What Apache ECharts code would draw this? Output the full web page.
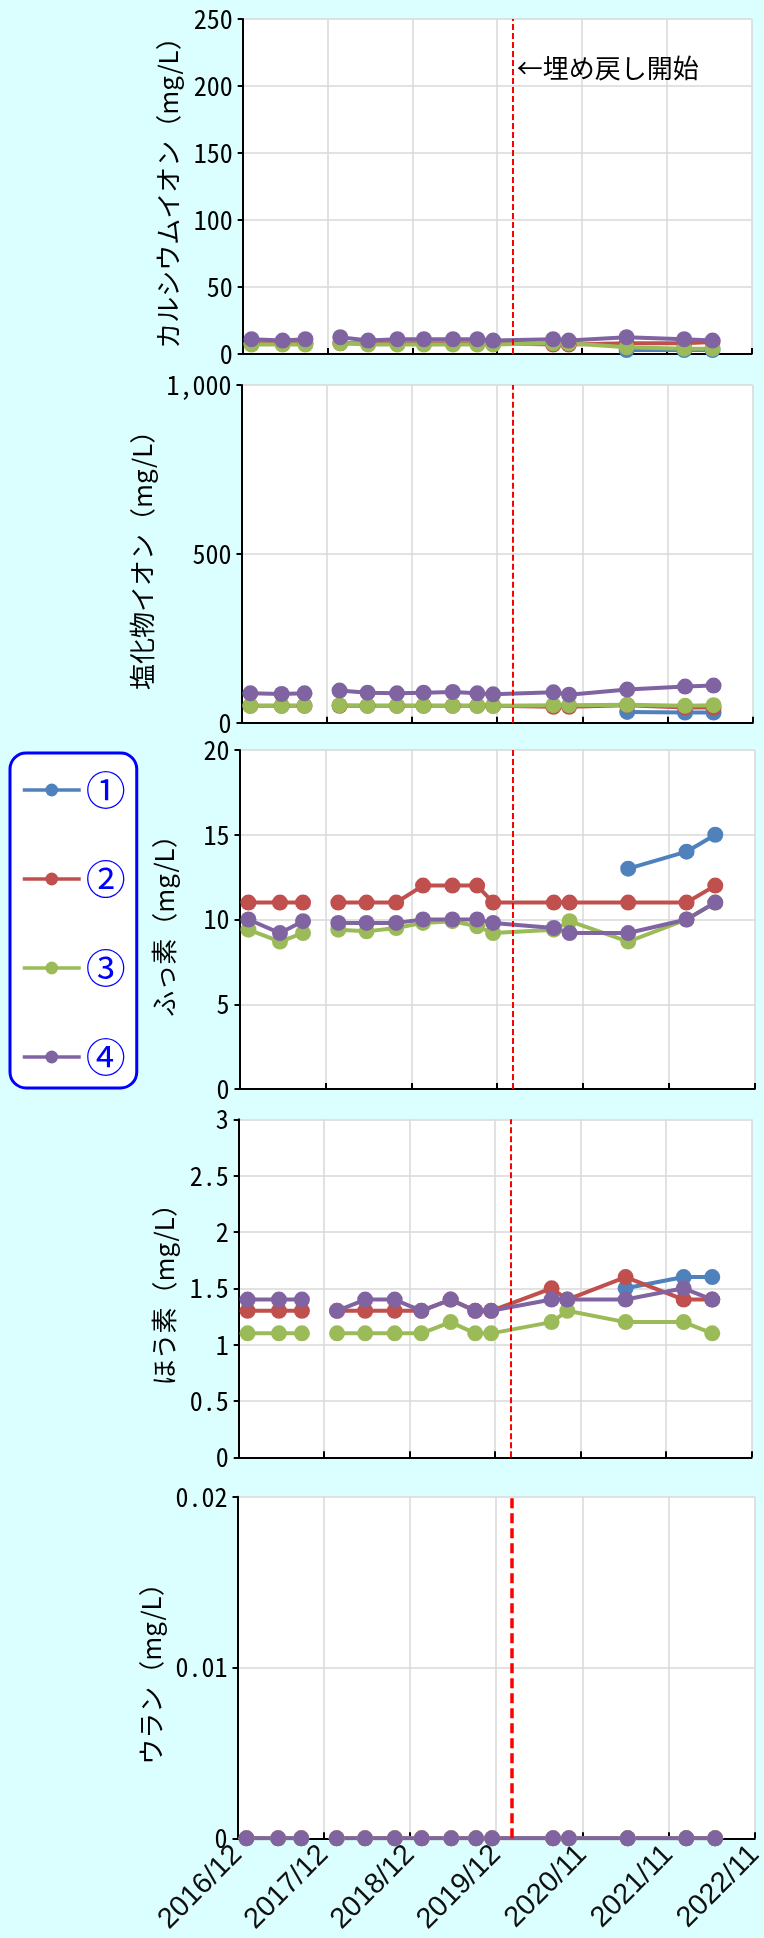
<!DOCTYPE html>
<html>
<head>
<meta charset="utf-8">
<script src="https://cdn.jsdelivr.net/npm/echarts@6/dist/echarts.min.js"></script>
<style>
html,body{margin:0;padding:0;background:#dbffff;}
#c{width:764px;height:1938px;}
</style>
</head>
<body>
<div id="c"></div>
<script>
// ---- data ----
const tickLabels = ['2016/12','2017/12','2018/12','2019/12','2020/11','2021/11','2022/11'];
const axisOrigin = '2016-12-01';
const tickStepDays = 365;
// sampling dates (null = blank row -> line break)
const sampleDates = ['2017-01-08','2017-05-22','2017-08-28', null,
  '2018-01-25','2018-05-25','2018-09-28','2019-01-20','2019-05-25','2019-09-07','2019-11-14',
  '2020-07-29','2020-10-04','2021-06-10','2022-02-13','2022-06-15'];
const backfillStart = '2020-02-04';
const backfillNote = '←埋め戻し開始';
const wellNames = ['①','②','③','④'];

const calcium1 = [null,null,null,null, null,null,null,null,null,null,null, null,null, 3,3,3];
const calcium2 = [8,8,8,null, 8,8,8,8,8,8,8, 7,7, 8, 8,9];
const calcium3 = [7,7,7,null, 8,7,7,7,7,7,7, 8,8, 5, 4,4];
const calcium4 = [11,10,11,null, 12.5,10,11,11,11,11,10, 11,10, 12.5, 11,10];

const chloride1 = [null,null,null,null, null,null,null,null,null,null,null, null,null, 32,30,30];
const chloride2 = [50,50,50,null, 50,50,50,50,50,50,50, 47,47, 52, 45,45];
const chloride3 = [50,50,50,null, 52,50,50,50,50,50,50, 52,52, 53, 50,52];
const chloride4 = [87,85,87,null, 95,89,87,89,91,87,84, 90,83, 98, 107,110];

const fluoride1 = [null,null,null,null, null,null,null,null,null,null,null, null,null, 13,14,15];
const fluoride2 = [11,11,11,null, 11,11,11,12,12,12,11, 11,11, 11, 11,12];
const fluoride3 = [9.4,8.7,9.2,null, 9.4,9.3,9.5,9.8,9.9,9.6,9.2, 9.4,9.9, 8.7, 10,11];
const fluoride4 = [10,9.2,9.9,null, 9.8,9.8,9.8,10,10,10,9.8, 9.5,9.2, 9.2, 10,11];

const boron1 = [null,null,null,null, null,null,null,null,null,null,null, null,null, 1.5,1.6,1.6];
const boron2 = [1.3,1.3,1.3,null, 1.3,1.3,1.3,1.3,1.4,1.3,1.3, 1.5,1.4, 1.6, 1.4,1.4];
const boron3 = [1.1,1.1,1.1,null, 1.1,1.1,1.1,1.1,1.2,1.1,1.1, 1.2,1.3, 1.2, 1.2,1.1];
const boron4 = [1.4,1.4,1.4,null, 1.3,1.4,1.4,1.3,1.4,1.3,1.3, 1.4,1.4, 1.4, 1.5,1.4];

const uranium1 = [null,null,null,null, null,null,null,null,null,null,null, null,null, 0,0,0];
const uranium2 = [0,0,0,null, 0,0,0,0,0,0,0, 0,0, 0, 0,0];
const uranium3 = [0,0,0,null, 0,0,0,0,0,0,0, 0,0, 0, 0,0];
const uranium4 = [0,0,0,null, 0,0,0,0,0,0,0, 0,0, 0, 0,0];

const axisNames = ['カルシウムイオン（mg/L）','塩化物イオン（mg/L）','ふっ素（mg/L）','ほう素（mg/L）','ウラン（mg/L）'];
const yMax = [250, 1000, 20, 3, 0.02];
const yStep = [50, 500, 5, 0.5, 0.01];
const panelValues = [
  [calcium1, calcium2, calcium3, calcium4],
  [chloride1, chloride2, chloride3, chloride4],
  [fluoride1, fluoride2, fluoride3, fluoride4],
  [boron1, boron2, boron3, boron4],
  [uranium1, uranium2, uranium3, uranium4]
];
const noteLevel = 213;

// ---- styling / layout ----
const colors = ['#4F81BD','#C0504D','#9BBB59','#8064A2'];
const boxes = [
  {left:242.7, top:19,     width:508.9, height:335},
  {left:241.5, top:385,    width:511.3, height:337.7},
  {left:239.5, top:750,    width:515.3, height:339},
  {left:238.7, top:1119.3, width:512.9, height:338},
  {left:237.5, top:1496.7, width:517.3, height:341.6}
];
const numFont = "'Noto Sans Mono CJK JP','DejaVu Sans Mono',monospace";
const jpFont = "'Noto Sans CJK JP',sans-serif";

function dayOf(s){
  const a = s.split('-').map(Number), o = axisOrigin.split('-').map(Number);
  return (Date.UTC(a[0],a[1]-1,a[2]) - Date.UTC(o[0],o[1]-1,o[2]))/86400000;
}
const xMax = tickStepDays*(tickLabels.length-1);
const dashDay = dayOf(backfillStart);

function buildData(vals){
  let last = 0;
  return sampleDates.map((d,i)=>{
    if(d===null) return [last,'-'];
    last = dayOf(d);
    return [last, vals[i]==null ? '-' : vals[i]];
  });
}

const grids = [], xAxes = [], yAxes = [], series = [];
boxes.forEach((b,p)=>{
  const isLast = p===boxes.length-1;
  grids.push(Object.assign({show:true, backgroundColor:'#ffffff', borderWidth:0, containLabel:false, outerBoundsMode:'none'}, b));
  xAxes.push({
    type:'value', gridIndex:p, min:0, max:xMax, interval:tickStepDays,
    axisLine:{show:true, onZero:false, lineStyle:{color:'#000', width:2}},
    axisTick:{show:true, inside:true, length:6, lineStyle:{color:'#000', width:2}},
    splitLine:{show:true, lineStyle:{color:'#d9d9d9', width:1.5}},
    axisLabel: isLast ? {show:true, rotate:45, margin:12, color:'#111', fontSize:29,
      fontFamily:"'Liberation Sans',Arial,sans-serif",
      formatter:v=>tickLabels[Math.round(v/tickStepDays)]} : {show:false}
  });
  yAxes.push({
    type:'value', gridIndex:p, min:0, max:yMax[p], interval:yStep[p],
    name:axisNames[p], nameLocation:'middle', nameGap:62, nameRotate:90,
    nameTextStyle:{color:'#000', fontSize:26, fontFamily:jpFont},
    axisLine:{show:true, lineStyle:{color:'#000', width:2}},
    axisTick:{show:true, length:5, lineStyle:{color:'#000', width:2}},
    splitLine:{show:true, lineStyle:{color:'#d9d9d9', width:1.5}},
    axisLabel:{show:true, margin:10, color:'#000', fontSize:26, fontFamily:numFont,
      formatter:v=>v.toLocaleString('en-US',{maximumFractionDigits:3})}
  });
  panelValues[p].forEach((vals,s)=>{
    const ser = {
      type:'line', name:wellNames[s], xAxisIndex:p, yAxisIndex:p,
      data:buildData(vals), symbol:'circle', symbolSize:16, connectNulls:false,
      lineStyle:{color:colors[s], width:4},
      itemStyle:{color:colors[s], borderWidth:0},
      emphasis:{disabled:true}, animation:false
    };
    if(s===0){
      ser.markLine = {silent:true, symbol:['none','none'], label:{show:false},
        lineStyle:{color:'#ff0000', type: isLast?[10,5]:[6,3], width: isLast?3.5:2},
        data:[{xAxis:dashDay}]};
    }
    if(p===0 && s===3){
      ser.markPoint = {silent:true, data:[{coord:[dashDay, noteLevel], symbol:'rect', symbolSize:1,
        itemStyle:{color:'rgba(0,0,0,0)'},
        label:{show:true, position:'right', distance:4, formatter:backfillNote,
          color:'#000', fontSize:26, fontFamily:jpFont}}]};
    }
    series.push(ser);
  });
});

const chart = echarts.init(document.getElementById('c'), null, {renderer:'canvas'});
chart.setOption({
  backgroundColor:'#dbffff',
  animation:false,
  grid:grids, xAxis:xAxes, yAxis:yAxes, series:series,
  legend:{
    data:wellNames, orient:'vertical', left:10, top:753,
    itemWidth:58, itemHeight:16, itemGap:45, itemTextGap:6,
    padding:[15,11,9,11],
    backgroundColor:'#ffffff', borderColor:'#0000ff', borderWidth:3, borderRadius:16,
    lineStyle:{width:3.5},
    textStyle:{color:'#0000ff', fontSize:40, lineHeight:44, fontFamily:jpFont},
    selectedMode:false
  }
});
</script>
</body>
</html>
